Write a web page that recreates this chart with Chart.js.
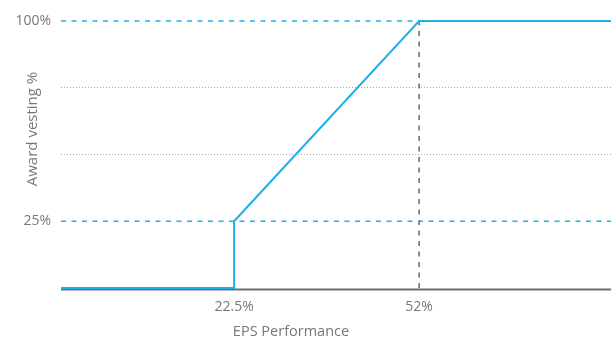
<!DOCTYPE html>
<html>
<head>
<meta charset="utf-8">
<script src="https://cdn.jsdelivr.net/npm/chart.js@4"></script>
<style>
  html, body { margin: 0; padding: 0; background: #fff; }
  #wrap { width: 611px; height: 340px; position: relative; }
</style>
</head>
<body>
<div id="wrap"><canvas id="vestChart"></canvas></div>
<script>
// EPS performance (x) vs award vesting % (y)
const epsPoints = [-5.1, 22.5, 22.5, 52, 82.6];
const vestPoints = [0, 0, 25, 100, 100];
const xRange = [-5.1, 82.6];
const xTickValues = [22.5, 52];
const yTickLabels = { 25: '25%', 100: '100%' };
const thresholdVest = 25;
const maxVest = 100;
const maxEps = 52;

const BLUE = '#1eb0ea';
const GREY = '#777';

const toXY = (xs, ys) => xs.map((x, i) => ({ x: x, y: ys[i] }));

// titles are off-centre in the original, so draw them by hand
const titlePlugin = {
    id: 'titles',
    beforeDatasetsDraw(chart) {
        // heavy grey baseline sitting just under the zero line
        const c = chart.ctx, a = chart.chartArea;
        c.save();
        c.strokeStyle = '#6e6e6e';
        c.lineWidth = 2;
        c.beginPath();
        c.moveTo(a.left, a.bottom + 1.5);
        c.lineTo(a.right, a.bottom + 1.5);
        c.stroke();
        c.restore();
    },
    afterDraw(chart) {
        const c = chart.ctx;
        c.save();
        c.fillStyle = GREY;
        c.textAlign = 'center';
        c.textBaseline = 'middle';
        c.font = '14.5px "Open Sans", sans-serif';
        c.fillText('EPS Performance', 291, 332);
        c.font = '15px "Open Sans", sans-serif';
        c.translate(33, 129);
        c.rotate(-Math.PI / 2);
        c.fillText('Award vesting %', 0, 0);
        c.restore();
    }
};

const dashed = (color) => ({
    borderColor: color,
    borderWidth: 1.5,
    borderDash: [5, 5.5],
    pointRadius: 0,
    clip: false
});

const ctx = document.getElementById('vestChart').getContext('2d');
new Chart(ctx, {
    type: 'line',
    data: {
        datasets: [
            {
                // vesting curve
                data: toXY(epsPoints, vestPoints),
                borderColor: BLUE,
                borderWidth: 2,
                pointRadius: 0,
                tension: 0,
                clip: false,
                order: 0
            },
            Object.assign({ data: toXY(xRange, [thresholdVest, thresholdVest]), order: 2 }, dashed(BLUE)),
            Object.assign({ data: toXY([xRange[0], maxEps], [maxVest, maxVest]), order: 2 }, dashed(BLUE)),
            Object.assign({ data: toXY([maxEps, maxEps], [0, maxVest]), order: 3 }, dashed('#666'))
        ]
    },
    options: {
        responsive: true,
        maintainAspectRatio: false,
        animation: false,
        layout: { padding: { top: 21, right: 0, left: 0, bottom: 0 } },
        plugins: {
            legend: { display: false },
            tooltip: { enabled: false }
        },
        scales: {
            x: {
                type: 'linear',
                min: xRange[0],
                max: xRange[1],
                afterBuildTicks: axis => {
                    axis.ticks = xTickValues.map(v => ({ value: v }));
                },
                afterFit: axis => { axis.height = 52; },
                ticks: {
                    color: GREY,
                    padding: 11,
                    font: { family: '"Open Sans", sans-serif', size: 14 },
                    callback: v => v + '%'
                },
                grid: { display: false, drawTicks: false },
                border: { display: false }
            },
            y: {
                min: 0,
                max: 100,
                afterBuildTicks: axis => {
                    axis.ticks = [25, 50, 75, 100].map(v => ({ value: v }));
                },
                afterFit: axis => { axis.width = 61; },
                ticks: {
                    color: GREY,
                    padding: 10,
                    font: { family: '"Open Sans", sans-serif', size: 14 },
                    callback: v => yTickLabels[v] || ''
                },
                grid: {
                    drawTicks: false,
                    lineWidth: 1,
                    color: c => (c.tick && (c.tick.value === 50 || c.tick.value === 75)) ? '#a8a8a8' : 'rgba(0,0,0,0)'
                },
                border: { display: false, dash: [1, 2] }
            }
        }
    },
    plugins: [titlePlugin]
});
</script>
</body>
</html>
